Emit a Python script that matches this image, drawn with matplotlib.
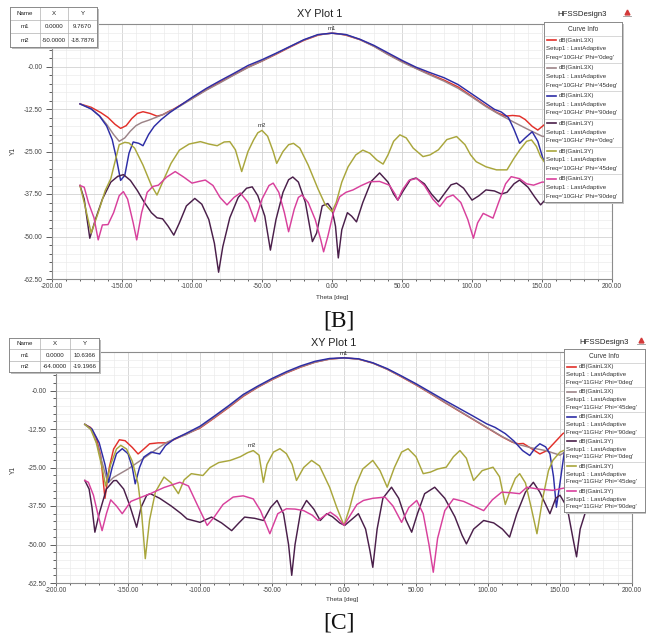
"""Two HFSS XY radiation plots ([B] 10 GHz, [C] 11 GHz) rebuilt with matplotlib."""

import matplotlib
matplotlib.use("Agg")
import matplotlib.pyplot as plt
from matplotlib.lines import Line2D
from matplotlib.ticker import MultipleLocator

plt.rcParams["font.family"] = ["Liberation Sans", "DejaVu Sans"]

W, H = 646, 639

# ── data: panel [B], 10 GHz ────────────────────────────────────────────────
B_RED_T = [-180, -172, -165, -160, -155, -151, -147, -143, -139, -135, -130, -125, -121, -117, -113,
           -108, -100, -90, -80, -70, -60, -50, -40, -30, -20, -10, -5, 0, 5, 10, 20, 30, 40, 50, 60,
           70, 80, 90, 100, 110, 118, 124, 129, 134, 138, 143, 147, 152, 160, 170, 180]
B_RED = [-11.0, -12.0, -13.6, -15.0, -17.0, -18.2, -17.4, -15.3, -13.8, -13.3, -13.8, -14.6, -14.2, -13.3,
         -12.5, -11.3, -9.4, -6.9, -4.6, -2.4, -0.2, 1.6, 3.6, 5.7, 7.7, 9.2, 9.6, 9.8, 9.6, 9.2, 7.9, 6.0,
         3.6, 1.5, -0.5, -2.3, -4.0, -6.0, -8.8, -11.6, -13.6, -14.6, -14.4, -14.6, -15.6, -17.6, -18.7,
         -17.0, -14.0, -12.0, -11.0]

B_GREY_T = [-180, -172, -166, -161, -156, -152, -148, -144, -140, -136, -131, -126, -120, -114, -108, -100,
            -90, -80, -70, -60, -50, -40, -30, -20, -10, 0, 10, 20, 30, 40, 50, 60, 70, 80, 90, 100, 110,
            120, 130, 140, 150, 160, 170, 180]
B_GREY = [-11.0, -12.4, -14.5, -17.0, -20.0, -22.0, -21.0, -19.0, -17.4, -16.5, -15.8, -15.0, -14.0, -12.8,
          -11.5, -9.5, -7.0, -4.8, -2.5, -0.3, 1.6, 3.7, 5.8, 7.8, 9.3, 9.8, 9.3, 7.9, 5.9, 3.5, 1.3, -0.6,
          -2.5, -4.3, -6.4, -9.0, -11.8, -14.2, -16.4, -18.5, -20.5, -21.0, -16.0, -11.0]

B_BLUE_T = [-180, -172, -166, -161, -157, -154, -151, -148, -145, -142, -138, -135, -131, -127, -122, -116,
            -110, -100, -90, -80, -70, -60, -50, -40, -30, -20, -10, 0, 10, 20, 30, 40, 50, 60, 70, 80, 90,
            100, 110, 116, 121, 126, 130, 134, 138, 143, 147, 151, 160, 170, 180]
B_BLUE = [-11.0, -12.5, -14.6, -17.5, -21.5, -27.0, -33.5, -32.0, -25.5, -22.2, -22.6, -23.3, -20.0, -17.6,
          -15.6, -13.6, -11.9, -9.1, -6.5, -4.2, -2.0, 0.3, 2.0, 3.9, 5.9, 7.9, 9.4, 9.8, 9.4, 8.0, 6.2, 4.0,
          1.8, -0.2, -1.8, -3.3, -5.3, -8.1, -10.9, -12.6, -13.4, -15.0, -18.5, -22.6, -21.0, -19.2, -22.0,
          -27.5, -24.0, -16.0, -11.0]

B_DARK_T = [-180, -177, -173, -169, -164, -158, -153, -149, -144, -139, -134, -129, -125, -121, -117, -113,
            -109, -104, -98, -93, -88, -84, -81, -78, -73, -67, -61, -57, -53, -48, -44, -40, -35, -31, -28,
            -24, -19, -14, -11, -7, -3, 0, 2.5, 4.5, 7, 11, 14, 17.5, 22, 28, 34, 40, 44, 47, 51, 56, 60, 66,
            71, 76, 81, 85, 89, 94, 100, 105, 110, 116, 121, 125, 130, 134, 140, 145, 149, 155, 165, 172, 180]
B_DARK = [-35.0, -39.0, -50.5, -45.0, -39.0, -34.0, -32.3, -31.8, -33.5, -36.5, -40.0, -43.0, -44.5, -44.8,
          -47.0, -49.6, -46.0, -41.0, -38.8, -40.5, -45.0, -52.0, -60.5, -53.0, -44.5, -38.5, -35.8, -35.4,
          -38.0, -44.0, -54.0, -45.0, -37.0, -33.3, -32.5, -34.0, -40.0, -51.5, -49.0, -41.0, -40.3, -42.0,
          -47.0, -56.3, -48.0, -43.0, -44.0, -45.7, -40.0, -33.8, -31.3, -34.0, -37.5, -39.3, -36.5, -33.3,
          -32.8, -34.5, -37.5, -39.8, -37.0, -34.8, -34.3, -35.8, -39.3, -38.0, -36.3, -36.6, -37.5, -37.0,
          -34.5, -33.4, -35.5, -38.5, -40.7, -38.0, -36.0, -38.0, -35.0]

B_OLIVE_T = [-180, -177, -172, -167, -162, -158, -155, -152, -148, -145, -141, -135, -129, -125, -121, -115,
             -109, -102, -94, -88, -82, -77, -73, -69, -64.5, -60, -56, -53, -50, -46, -42, -39.5, -35, -31,
             -27.5, -23, -17, -10, -5, 0, 3, 7, 11.5, 17, 22, 27, 32, 36.5, 40, 44, 48.5, 53, 58, 65, 70, 76,
             82, 89, 95, 99, 103, 110, 117.5, 125, 130, 134, 139, 142.5, 146, 149, 155, 165, 172, 180]
B_OLIVE = [-35.0, -40.0, -49.0, -43.0, -36.5, -33.0, -28.0, -23.0, -22.3, -22.5, -24.0, -29.0, -35.0, -37.8,
           -34.0, -28.5, -24.6, -22.8, -22.1, -22.8, -23.3, -22.2, -22.1, -24.5, -30.9, -25.0, -21.6, -19.5,
           -18.8, -20.5, -25.0, -28.5, -25.0, -23.0, -22.6, -24.0, -29.0, -36.0, -40.5, -42.7, -40.0, -34.0,
           -29.5, -26.0, -24.6, -25.5, -27.5, -28.7, -26.0, -22.0, -20.1, -21.0, -24.0, -26.5, -26.0, -24.5,
           -21.5, -20.6, -23.0, -26.0, -28.0, -29.5, -30.4, -30.4, -27.0, -24.6, -22.0, -21.6, -23.5, -26.5,
           -30.0, -33.0, -36.0, -35.0]

B_MAG_T = [-180, -177, -174, -170, -167, -164, -160, -156, -152, -149, -146, -142, -139.5, -136, -132, -128,
           -124, -118, -112, -106, -100, -95, -90.5, -85, -80, -75, -70, -65.5, -60, -55, -50, -45, -42, -38,
           -34, -31, -27, -24, -21.5, -17, -12, -8, -6, -3, 1, 5.5, 10, 15, 21, 27, 34, 41, 45, 47, 50, 55,
           60.5, 66, 72, 77, 82, 86.5, 92, 97, 101, 104, 108, 112, 115, 119, 124, 128, 134, 139, 144, 150,
           160, 170, 180]
B_MAG = [-35.0, -35.5, -40.0, -44.5, -51.0, -46.6, -46.5, -43.0, -38.0, -36.8, -39.0, -46.0, -51.0, -43.0,
         -37.0, -35.3, -34.9, -32.5, -30.9, -32.5, -34.3, -33.8, -33.4, -35.0, -38.5, -40.7, -38.5, -37.2,
         -40.0, -45.6, -39.0, -35.0, -34.3, -37.0, -43.0, -48.6, -42.0, -38.5, -37.8, -40.0, -45.0, -51.0,
         -54.5, -50.0, -43.0, -38.3, -37.0, -36.3, -35.0, -33.9, -33.8, -34.9, -37.5, -39.3, -36.5, -33.5,
         -32.9, -35.0, -39.0, -41.2, -38.5, -37.8, -40.0, -45.0, -50.5, -46.0, -43.2, -44.0, -44.6, -40.0,
         -34.5, -32.4, -33.0, -34.5, -34.9, -34.0, -34.0, -35.0, -35.0]

B_MARK_NAME = ["m1", "m2"]
B_MARK_X = [0.0, -50.0]
B_MARK_Y = [9.7670, -18.7876]

# ── data: panel [C], 11 GHz ────────────────────────────────────────────────
C_RED_T = [-180, -176, -172, -169, -166, -163, -160, -156, -152, -147, -143, -139, -135, -129, -123, -115,
           -110, -100, -90, -80, -70, -60, -50, -40, -30, -20, -10, 0, 10, 20, 30, 40, 50, 60, 70, 80, 90,
           100, 110, 117, 121, 124.5, 130, 136, 141, 146, 152, 160, 170, 180]
C_RED = [-11.0, -12.0, -15.5, -21.0, -35.0, -25.0, -19.0, -16.0, -16.3, -18.5, -20.6, -19.0, -17.3, -17.0,
         -17.0, -15.3, -14.2, -12.2, -8.9, -5.5, -1.9, 1.0, 3.5, 5.7, 7.6, 9.2, 10.2, 10.6, 10.2, 8.9, 6.9,
         4.4, 1.8, -1.0, -3.9, -6.7, -9.5, -12.3, -15.1, -16.8, -17.3, -17.2, -18.8, -20.6, -19.5, -17.0,
         -14.0, -12.0, -11.0, -11.0]

C_GREY_T = [-180, -175, -171, -167, -164, -160, -150, -140, -130, -123, -115, -110, -100, -90, -80, -70, -60,
            -50, -40, -30, -20, -10, 0, 10, 20, 30, 40, 50, 60, 70, 80, 90, 100, 110, 120, 130, 140, 150,
            160, 170, 180]
C_GREY = [-11.0, -13.0, -18.0, -25.0, -30.0, -28.2, -25.5, -22.3, -19.0, -16.8, -15.2, -14.4, -12.0, -8.7,
          -5.3, -1.7, 1.1, 3.6, 5.8, 7.7, 9.2, 10.2, 10.6, 10.2, 8.9, 6.9, 4.5, 1.9, -0.9, -3.8, -6.6, -9.4,
          -12.2, -15.0, -17.4, -18.6, -19.5, -21.0, -18.0, -13.0, -11.0]

C_BLUE_T = [-180, -175, -170, -166, -163.5, -161, -158, -154, -150, -147, -145, -142, -139, -134, -128, -124,
            -118, -110, -100, -90, -80, -70, -60, -50, -40, -30, -20, -10, 0, 10, 20, 30, 40, 50, 60, 70, 80,
            90, 99, 105, 112, 118, 124, 129, 133, 136, 140, 143, 145.5, 147.5, 150, 153, 160, 170, 180]
C_BLUE = [-11.0, -12.5, -17.0, -24.0, -29.8, -25.0, -20.5, -18.9, -20.5, -25.0, -30.3, -25.0, -21.6, -20.0,
          -20.6, -17.9, -15.8, -14.0, -11.6, -8.3, -4.9, -1.3, 1.4, 3.9, 6.1, 8.0, 9.5, 10.4, 10.6, 10.3, 9.0,
          7.1, 4.7, 2.2, -0.5, -3.2, -5.8, -8.4, -10.8, -12.0, -14.0, -16.4, -19.5, -21.1, -18.5, -17.3,
          -18.3, -20.6, -28.0, -37.9, -30.0, -20.0, -15.0, -12.0, -11.0]

C_DARK_T = [-180, -177, -175, -173, -170, -165, -160, -158, -153, -149, -144, -141, -137, -134.5, -128, -120,
            -113, -109, -100, -92, -85, -78, -73, -69, -62, -56, -51, -46.5, -42, -38.5, -36.3, -34, -30,
            -26, -21, -16.5, -12, -8, -3, 0.5, 5, 10, 15, 18, 20, 23, 27, 33, 38, 43, 47, 51, 56, 63, 70, 77,
            82, 85, 90, 97, 104, 110, 115, 120, 126, 131.5, 136, 140, 143, 147, 150, 155, 159, 161.5, 164,
            170, 180]
C_DARK = [-29.2, -32.0, -38.0, -46.0, -40.0, -32.0, -29.3, -29.2, -32.0, -37.0, -44.4, -38.0, -34.0, -33.5,
          -35.0, -37.5, -40.0, -41.7, -42.8, -41.1, -43.0, -45.5, -43.0, -41.1, -41.5, -42.2, -38.0, -35.7,
          -40.0, -50.0, -60.0, -50.0, -39.0, -35.7, -38.5, -42.2, -40.0, -41.0, -43.0, -43.8, -42.0, -40.0,
          -45.0, -52.0, -57.4, -45.0, -35.0, -31.4, -35.0, -42.0, -46.0, -40.0, -33.5, -31.4, -35.0, -41.0,
          -47.0, -49.8, -45.0, -42.2, -43.0, -45.0, -47.6, -40.0, -33.0, -29.8, -33.0, -37.0, -40.0, -35.0,
          -34.0, -38.0, -48.0, -54.0, -45.0, -36.0, -30.0]

C_OLIVE_T = [-180, -176, -172, -168, -165.5, -162, -158, -155, -151, -147, -143, -140.5, -138, -135, -131,
             -125, -120, -115, -111, -106, -98, -93, -87, -79, -72, -67, -63, -59, -56, -53.5, -49, -44.5,
             -40, -36, -33, -28, -22.5, -17, -10, -5, 0, 4, 8, 13, 20, 25, 30, 35, 40, 44.5, 50, 55, 60, 65,
             71, 76, 80.5, 85, 90, 96, 103.5, 108, 112, 115, 119, 122, 126, 130, 134, 138, 142, 145, 150,
             160, 170, 180]
C_OLIVE = [-11.0, -12.5, -17.0, -25.0, -31.0, -24.0, -19.0, -17.8, -19.0, -23.0, -30.3, -40.0, -54.6, -42.0,
           -33.0, -28.1, -30.0, -33.5, -29.0, -27.0, -27.6, -25.0, -23.4, -22.7, -21.5, -20.2, -19.5, -21.0,
           -29.8, -24.0, -20.0, -18.9, -20.5, -24.0, -29.2, -25.0, -22.7, -24.5, -31.4, -38.0, -43.8, -38.0,
           -31.0, -25.5, -22.7, -26.0, -31.4, -25.0, -20.0, -18.9, -21.5, -27.0, -26.5, -25.5, -24.9, -21.5,
           -19.5, -22.0, -29.2, -26.0, -24.9, -28.0, -37.0, -33.0, -28.5, -27.0, -30.0, -38.0, -46.5, -35.0,
           -26.0, -22.7, -20.0, -18.0, -14.0, -11.0]

C_MAG_T = [-180, -177.5, -174, -171, -168, -165, -162, -158, -154, -148, -140, -134.5, -125, -114, -108, -102,
           -95, -90, -84, -77, -70, -63, -58, -51.5, -46, -40, -34, -28, -22, -18, -13, -9.5, -5, 0, 5, 9,
           13.5, 20, 28.5, 34, 40, 45, 50.5, 55, 59, 62, 65, 70, 76, 83, 90, 97, 103, 109.5, 116, 122, 127,
           135, 145, 160, 170, 180]
C_MAG = [-29.2, -29.8, -34.0, -40.0, -45.5, -40.0, -35.5, -37.5, -40.0, -36.0, -34.5, -33.5, -31.5, -29.8,
         -31.0, -37.0, -43.8, -41.0, -37.0, -34.6, -34.2, -35.2, -39.0, -46.5, -40.0, -38.4, -38.5, -39.0,
         -40.5, -42.2, -40.5, -39.5, -41.0, -43.8, -40.0, -37.0, -35.7, -35.0, -34.6, -37.5, -42.8, -38.0,
         -35.7, -40.0, -50.0, -59.0, -48.0, -39.0, -35.2, -36.0, -37.5, -39.0, -35.5, -33.0, -33.2, -33.5,
         -31.4, -32.0, -32.4, -31.0, -30.0, -29.5]

C_MARK_NAME = ["m1", "m2"]
C_MARK_X = [0.0, -64.0]
C_MARK_Y = [10.6366, -19.1966]

# ── shared labels / styling ────────────────────────────────────────────────
TRACES = ["dB(GainL3X)"] * 3 + ["dB(GainL3Y)"] * 3
PHIS = ["0deg", "45deg", "90deg"] * 2
COLORS = ["#e2302a", "#9c8488", "#2d2da6", "#4a1f4a", "#a9a63c", "#d8409c"]

X_TICKS = [-200, -150, -100, -50, 0, 50, 100, 150, 200]
X_LABELS = ["-200.00", "-150.00", "-100.00", "-50.00", "0.00", "50.00", "100.00", "150.00", "200.00"]
Y_TICKS = [-62.5, -50, -37.5, -25, -12.5, 0]
Y_LABELS = ["-62.50", "-50.00", "-37.50", "-25.00", "-12.50", "-0.00"]


def box(x0, y0, x1, y1):
    """pixel box (top-left origin) -> figure rect"""
    return [x0 / W, 1 - y1 / H, (x1 - x0) / W, (y1 - y0) / H]


def ftext(fig, x, y, s, **kw):
    fig.text(x / W, 1 - y / H, s, **kw)


def plain(ax, face, edge=None):
    ax.set_xticks([])
    ax.set_yticks([])
    ax.set_facecolor(face)
    for s in ax.spines.values():
        if edge is None:
            s.set_visible(False)
        else:
            s.set_color(edge)
            s.set_linewidth(0.7)


def marker_table(fig, rect, cols, rows, names, xs, ys):
    x0, y0, x1, y1 = rect
    plain(fig.add_axes(box(x0 + 2, y0 + 2, x1 + 2, y1 + 2)), "#bdbdbd")
    t = fig.add_axes(box(x0, y0, x1, y1))
    plain(t, "white", "#8a8a8a")
    w, h = x1 - x0, y1 - y0
    t.set_xlim(0, w)
    t.set_ylim(h, 0)
    for c in cols:
        t.plot([c, c], [0, h], color="#b0b0b0", lw=0.5)
    for r in rows:
        t.plot([0, w], [r, r], color="#b0b0b0", lw=0.5)
    xe = [0] + cols + [w]
    ye = [0] + rows + [h]
    cells = [["Name", "X", "Y"]] + [[n, f"{x:.4f}", f"{y:.4f}"] for n, x, y in zip(names, xs, ys)]
    for i, row in enumerate(cells):
        for j, s in enumerate(row):
            t.text((xe[j] + xe[j + 1]) / 2, (ye[i] + ye[i + 1]) / 2 + 0.3, s,
                   fontsize=4.4, ha="center", va="center", color="#222222")


def curve_legend(fig, rect, freq):
    x0, y0, x1, y1 = rect
    plain(fig.add_axes(box(x0 + 2, y0 + 2, x1 + 2, y1 + 2)), "#c4c4c4")
    lg = fig.add_axes(box(x0, y0, x1, y1))
    plain(lg, "white", "#8a8a8a")
    w, h = x1 - x0, y1 - y0
    lg.set_xlim(0, w)
    lg.set_ylim(h, 0)
    head = 13.5
    lg.text(w / 2, head / 2 + 0.5, "Curve Info", fontsize=4.7, ha="center", va="center", color="#333333")
    eh = (h - head) / 6
    for i, (tr, phi, c) in enumerate(zip(TRACES, PHIS, COLORS)):
        top = head + i * eh
        lg.plot([1, w - 1], [top, top], color="#c8c8c8", lw=0.5)
        y1l = top + eh * 0.17
        lg.plot([3, 12], [y1l, y1l], color=c, lw=1.2)
        lg.text(15, y1l, tr, fontsize=4.4, va="center", color="#333333")
        lg.text(2, top + eh * 0.48, "Setup1 : LastAdaptive", fontsize=4.4, va="center", color="#333333")
        lg.text(2, top + eh * 0.79, f"Freq='{freq}' Phi='{phi}'", fontsize=4.4, va="center",
                color="#333333")


def panel(fig, p):
    ax = fig.add_axes(box(*p["axes"]))
    for (t, v), c in zip(p["curves"], COLORS):
        ax.plot(t, v, color=c, lw=1.05, solid_joinstyle="round")
    for n, x, y in zip(p["mnames"], p["mx"], p["my"]):
        ax.text(x, y + 0.6, n, fontsize=4.3, ha="center", va="bottom", color="#333333")
    ax.set_xlim(-200, 200)
    ax.set_ylim(-62.5, 12.5)
    ax.set_xticks(X_TICKS)
    ax.set_xticklabels(X_LABELS)
    ax.set_yticks(Y_TICKS)
    ax.set_yticklabels(Y_LABELS)
    ax.xaxis.set_minor_locator(MultipleLocator(10))
    ax.yaxis.set_minor_locator(MultipleLocator(2.5))
    ax.grid(which="major", color="#d2d2d2", lw=0.6)
    ax.grid(which="minor", color="#ebebeb", lw=0.5)
    ax.set_axisbelow(True)
    ax.tick_params(which="both", labelsize=4.8, colors="#444444", direction="out", width=0.6)
    ax.tick_params(axis="y", which="major", length=4.5, pad=2.5)
    ax.tick_params(axis="y", which="minor", length=2.2)
    ax.tick_params(axis="x", which="major", length=2.0, pad=0.8)
    ax.tick_params(axis="x", which="minor", length=1.3)
    for s in ax.spines.values():
        s.set_color("#8c8c8c")
        s.set_linewidth(0.8)

    ftext(fig, *p["title"], "XY Plot 1", fontsize=7.8, ha="center", va="center", color="#222222")
    ftext(fig, *p["design"], "HFSSDesign3", fontsize=5.6, ha="center", va="center", color="#222222")
    lx, ly = p["logo"]
    fig.add_artist(Line2D([lx / W], [1 - ly / H], marker="^", markersize=3.5, color="#d33a3a",
                          transform=fig.transFigure))
    fig.add_artist(Line2D([(lx - 4) / W, (lx + 4) / W], [1 - (ly + 4) / H] * 2, lw=0.6,
                          color="#999999", transform=fig.transFigure))
    ftext(fig, *p["ylab"], "Y1", fontsize=4.8, rotation=90, ha="center", va="center", color="#333333")
    ftext(fig, *p["xlab"], "Theta [deg]", fontsize=4.6, ha="center", va="center", color="#333333")

    marker_table(fig, p["table"], p["tcols"], p["trows"], p["mnames"], p["mx"], p["my"])
    curve_legend(fig, p["legend"], p["freq"])
    ftext(fig, *p["cap_xy"], p["caption"], fontsize=17, family="Liberation Serif",
          ha="center", va="center", color="#111111")


PANEL_B = dict(
    axes=(52, 24, 612, 279),
    curves=[(B_RED_T, B_RED), (B_GREY_T, B_GREY), (B_BLUE_T, B_BLUE),
            (B_DARK_T, B_DARK), (B_OLIVE_T, B_OLIVE), (B_MAG_T, B_MAG)],
    mnames=B_MARK_NAME, mx=B_MARK_X, my=B_MARK_Y, freq="10GHz",
    title=(320, 14), design=(582, 15), logo=(627, 12), ylab=(13, 151), xlab=(332, 297),
    table=(10, 7, 97, 47), tcols=[30, 58], trows=[13, 26],
    legend=(544, 22, 622, 202), caption="[B]", cap_xy=(339, 321),
)

PANEL_C = dict(
    axes=(56, 352, 632, 583),
    curves=[(C_RED_T, C_RED), (C_GREY_T, C_GREY), (C_BLUE_T, C_BLUE),
            (C_DARK_T, C_DARK), (C_OLIVE_T, C_OLIVE), (C_MAG_T, C_MAG)],
    mnames=C_MARK_NAME, mx=C_MARK_X, my=C_MARK_Y, freq="11GHz",
    title=(334, 343), design=(604, 343), logo=(641, 340), ylab=(13, 470), xlab=(342, 599),
    table=(9, 338, 99, 372), tcols=[31, 61], trows=[11, 23],
    legend=(564, 349, 645, 512), caption="[C]", cap_xy=(339, 623),
)


def main():
    fig = plt.figure(figsize=(W / 100, H / 100), dpi=100)
    fig.patch.set_facecolor("white")
    panel(fig, PANEL_B)
    panel(fig, PANEL_C)
    fig.savefig("out.png", dpi=100)
    plt.close(fig)


if __name__ == "__main__":
    main()
